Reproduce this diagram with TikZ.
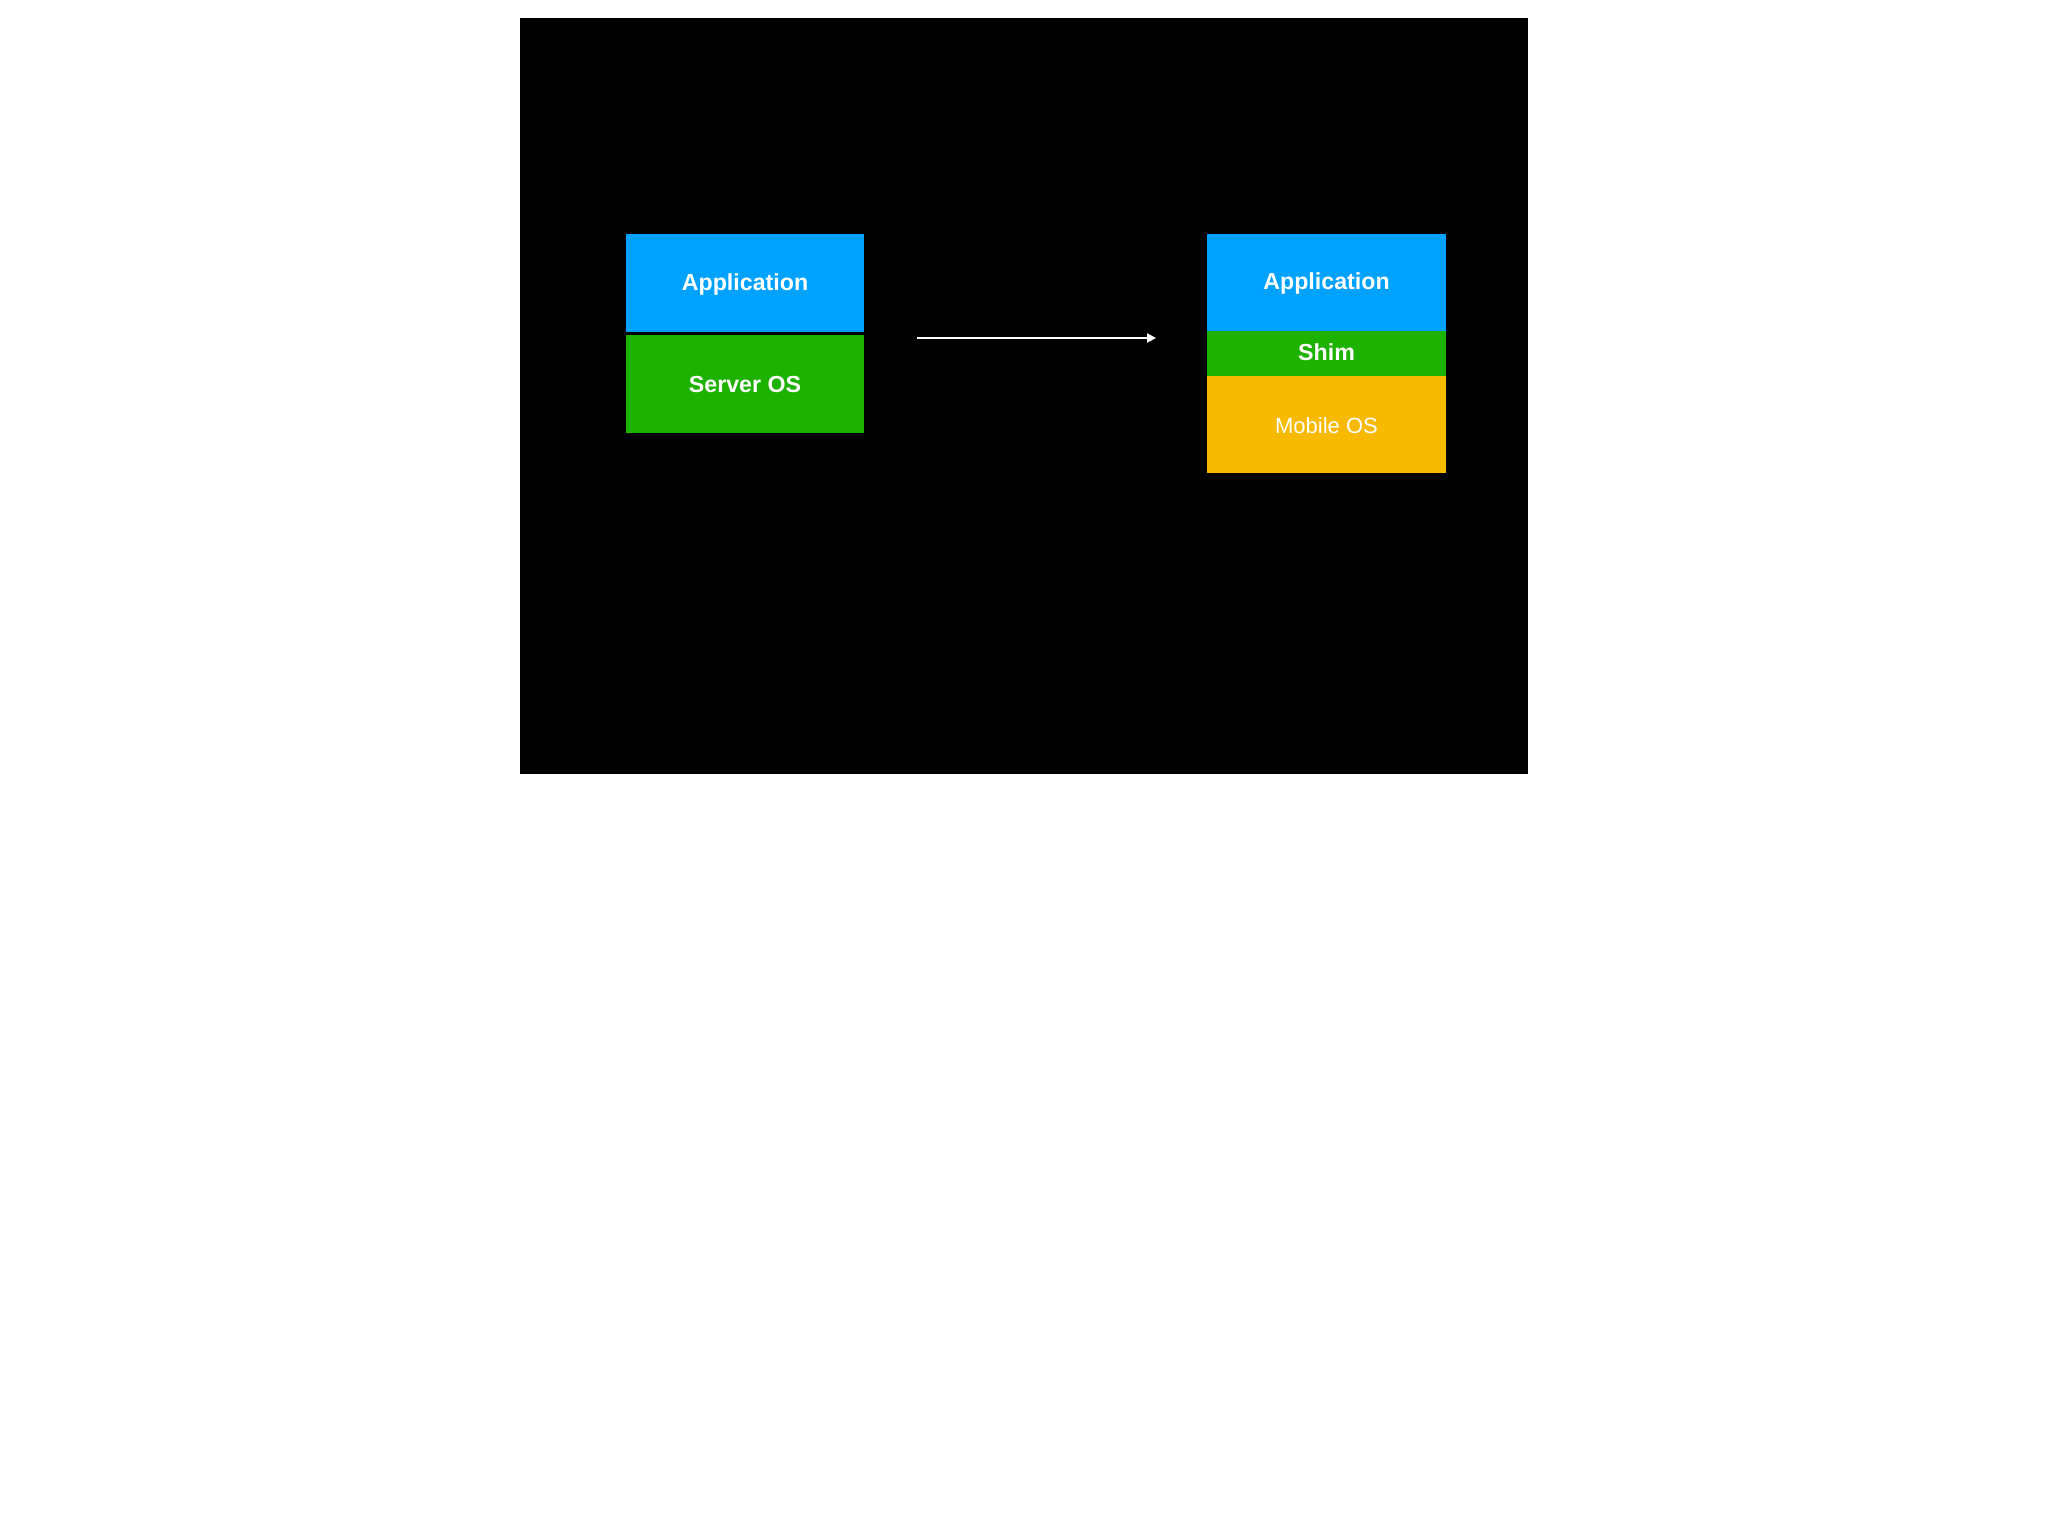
\documentclass[tikz,border=0pt]{standalone}
\usepackage{fontspec}
\setmainfont{Liberation Sans}
\usetikzlibrary{arrows.meta}
\definecolor{appblue}{HTML}{00A2FF}
\definecolor{osgreen}{HTML}{1DB100}
\definecolor{mobyellow}{HTML}{F8BA00}
\tikzset{
  layer/.style={draw=none, inner sep=0pt, text=white, minimum width=119pt, anchor=center, text height=0.716em, text depth=0pt},
  boldlabel/.style={font=\fontsize{11.6pt}{13pt}\selectfont\bfseries},
  plainlabel/.style={font=\fontsize{11pt}{13pt}\selectfont},
  arrowline/.style={draw=white, line width=0.75pt, -{Triangle[length=4.5pt,width=4.6pt]}}
}
\begin{document}
\begin{tikzpicture}[x=0.5pt,y=-0.5pt]
\useasboundingbox (0,0) rectangle (2048,1536);
\fill[white] (0,0) rectangle (2048,1536);
\fill[black] (520,18) rectangle (1528,774);
% left stack
\node[layer, boldlabel, fill=appblue, minimum height=49pt] (lapp) at (745,283) {Application};
\node[layer, boldlabel, fill=osgreen, minimum height=49pt, text height=0.716em+1pt] (lserver) at (745,384) {Server OS};
% right stack
\node[layer, boldlabel, fill=appblue, minimum height=48.5pt, minimum width=119.5pt] (rapp) at (1326.5,282.5) {Application};
\node[layer, boldlabel, fill=osgreen, minimum height=22.5pt, minimum width=119.5pt] (rshim) at (1326.5,353.5) {Shim};
\node[layer, plainlabel, fill=mobyellow, minimum height=48.5pt, minimum width=119.5pt, text height=0.716em+1.5pt] (rmobile) at (1326.5,424.5) {Mobile OS};
% arrow
\coordinate (astart) at (917,338);
\coordinate (aend) at (1156,338);
\draw[arrowline] (astart) -- (aend);
\end{tikzpicture}
\end{document}
